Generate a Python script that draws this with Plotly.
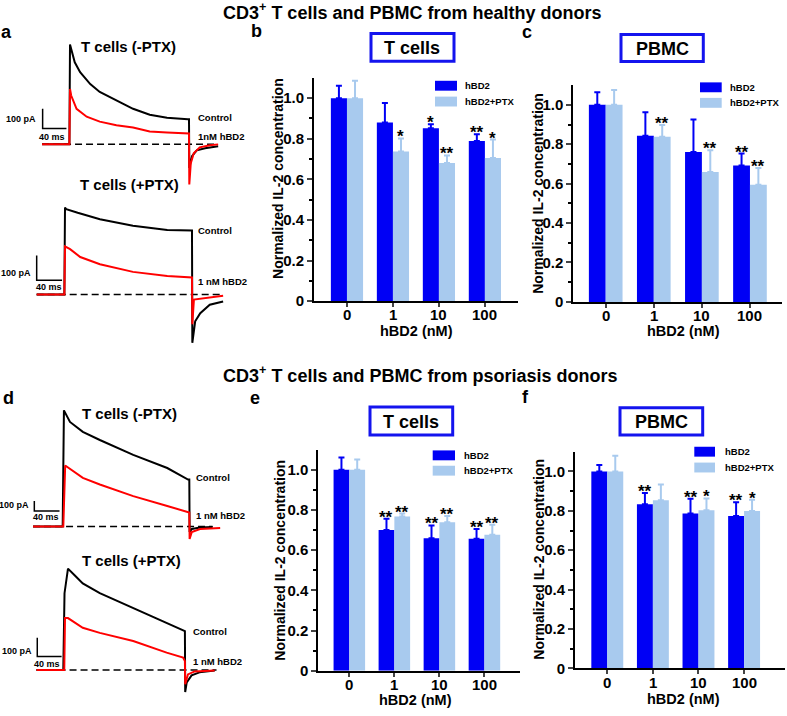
import plotly.graph_objects as go

W, H = 787, 716
FONT = "Liberation Sans, Arial, sans-serif"
DARK = "#0000F5"
LIGHT = "#A8CAEE"
BOXBLUE = "#1414EE"
RED = "#FF0000"

# ---------------- bar chart data ----------------
doses = ["0", "1", "10", "100"]
yticks = [0, 0.2, 0.4, 0.6, 0.8, 1.0]
yticktext = ["0", "0.2", "0.4", "0.6", "0.8", "1.0"]

b_hbd2 = [1.00, 0.880, 0.852, 0.789]
b_hbd2_err = [0.062, 0.097, 0.020, 0.033]
b_ptx = [1.00, 0.737, 0.681, 0.705]
b_ptx_err = [0.086, 0.065, 0.037, 0.091]
b_sig_hbd2 = ["", "", "*", "**"]
b_sig_ptx = ["", "*", "**", "*"]

c_hbd2 = [1.00, 0.843, 0.761, 0.692]
c_hbd2_err = [0.064, 0.120, 0.164, 0.061]
c_ptx = [1.00, 0.838, 0.659, 0.595]
c_ptx_err = [0.075, 0.060, 0.110, 0.085]
c_sig_hbd2 = ["", "", "", "**"]
c_sig_ptx = ["", "**", "**", "**"]

e_hbd2 = [1.00, 0.700, 0.659, 0.657]
e_hbd2_err = [0.061, 0.056, 0.064, 0.048]
e_ptx = [1.00, 0.767, 0.739, 0.677]
e_ptx_err = [0.051, 0.015, 0.031, 0.049]
e_sig_hbd2 = ["", "**", "**", "**"]
e_sig_ptx = ["", "**", "**", "**"]

f_hbd2 = [1.00, 0.833, 0.786, 0.774]
f_hbd2_err = [0.033, 0.058, 0.075, 0.070]
f_ptx = [1.00, 0.853, 0.803, 0.799]
f_ptx_err = [0.080, 0.080, 0.060, 0.057]
f_sig_hbd2 = ["", "**", "**", "**"]
f_sig_ptx = ["", "", "*", "*"]

# ---------------- current traces (time in ms, current in pA) ----------------
a1_t_ctrl = [-47, -1, 0, 3, 8, 17, 34, 50, 78, 106, 134, 163, 198, 200, 200.5, 205, 213, 227, 249]
a1_i_ctrl = [0, 0, 505, 470, 415, 365, 305, 265, 222, 180, 150, 135, 127, 127, -120, -60, -30, -20, -10]
a1_t_hbd2 = [-47, -1, 0, 2, 11, 28, 50, 78, 106, 134, 163, 198, 200, 200.5, 203, 208, 218, 235, 249]
a1_i_hbd2 = [0, 0, 280, 247, 180, 140, 115, 97, 85, 65, 60, 55, 55, -203, -95, -45, -15, -5, 0]

a2_t_ctrl = [-44.6, -1, 0, 2, 20, 55, 107, 161, 200, 200.5, 205, 213, 228, 249]
a2_i_ctrl = [0, 0, 351, 345, 330, 304, 278, 260, 258, -196, -109, -76, -42, -29]
a2_t_hbd2 = [-44.6, -1, 0, 8, 24, 55, 107, 161, 200, 200.5, 203, 228, 249]
a2_i_hbd2 = [0, 0, 194, 183, 151, 122, 91, 74, 68, -121, -21, -13, -6]

d1_t_ctrl = [-48, -1, 1, 10.6, 31, 58, 111, 165, 198, 200, 200.5, 204, 217, 237]
d1_i_ctrl = [0, 0, 1175, 1058, 958, 875, 725, 592, 475, 475, -55, -25, -10, -5]
d1_t_hbd2 = [-48, 0, 3, 10.6, 31, 58, 111, 165, 198, 200, 200.5, 204, 217, 249]
d1_i_hbd2 = [0, 0, 618, 585, 492, 425, 308, 208, 142, 142, -125, -55, -25, -15]

d2_t_ctrl = [-44, 0, 2, 7.7, 19, 32, 60, 115, 170, 200, 200.5, 203, 211, 224, 249]
d2_i_ctrl = [0, 0, 408, 539, 502, 460, 408, 329, 250, 206, -118, -66, -29, -13, -3]
d2_t_hbd2 = [-44, 1.6, 2.8, 7.7, 32, 60, 115, 170, 197, 200, 200.5, 205, 216, 249]
d2_i_hbd2 = [0, 0, 276, 276, 224, 197, 154, 92, 66, 48, -76, -24, -8, -3]

baseline_span = {"a1": [-47, 244], "a2": [-44.6, 249], "d1": [-48, 237], "d2": [-44, 252]}
scale_pA = 100
scale_ms = 40

fig = go.Figure()


def px_x(x):
    return x / W


def px_y(y):
    return 1 - y / H


HIDDEN = dict(showline=False, showticklabels=False, showgrid=False, zeroline=False,
              ticks="", fixedrange=True)


# ---------- trace-panel axes ----------
def trace_axes(n, left, right, top, bottom, t0, px_ms, base, pa_px):
    xa = dict(domain=[px_x(left), px_x(right)],
              range=[(left - t0) / px_ms, (right - t0) / px_ms], **HIDDEN)
    ya = dict(domain=[px_y(bottom), px_y(top)],
              range=[(base - bottom) * pa_px, (base - top) * pa_px], **HIDDEN)
    if n > 1:
        xa["anchor"] = "y%d" % n
        ya["anchor"] = "x%d" % n
    return xa, ya


layout_axes = {}
panels = {
    "a1": (1, 30, 240, 40, 195, 70, 0.595, 146, 5.0, (-46, 80)),
    "a2": (2, 30, 240, 200, 355, 65, 0.635, 297.7, 4.0, (-44.6, 57.6)),
    "d1": (5, 25, 240, 405, 555, 63.3, 0.63, 532.5, 10.0, (-46, 158)),
    "d2": (6, 25, 240, 565, 712, 63.3, 0.608, 677.5, 5.26, (-42.8, 71)),
}
trace_data = {
    "a1": (a1_t_ctrl, a1_i_ctrl, a1_t_hbd2, a1_i_hbd2),
    "a2": (a2_t_ctrl, a2_i_ctrl, a2_t_hbd2, a2_i_hbd2),
    "d1": (d1_t_ctrl, d1_i_ctrl, d1_t_hbd2, d1_i_hbd2),
    "d2": (d2_t_ctrl, d2_i_ctrl, d2_t_hbd2, d2_i_hbd2),
}
for key, (n, l, r, t, b, t0, pxms, base, papx, sb) in panels.items():
    xa, ya = trace_axes(n, l, r, t, b, t0, pxms, base, papx)
    sfx = "" if n == 1 else str(n)
    layout_axes["xaxis" + sfx] = xa
    layout_axes["yaxis" + sfx] = ya
    xr, yr = "x" + sfx, "y" + sfx
    tc, ic, th, ih = trace_data[key]
    span = baseline_span[key]
    fig.add_trace(go.Scatter(x=span, y=[0, 0], mode="lines", xaxis=xr, yaxis=yr,
                             line=dict(color="black", width=1.5, dash="7px,4px"), showlegend=False))
    fig.add_trace(go.Scatter(x=tc, y=ic, mode="lines", xaxis=xr, yaxis=yr,
                             line=dict(color="black", width=2), showlegend=False))
    fig.add_trace(go.Scatter(x=th, y=ih, mode="lines", xaxis=xr, yaxis=yr,
                             line=dict(color=RED, width=2), showlegend=False))
    sx, sy = sb
    fig.add_trace(go.Scatter(x=[sx, sx, sx + scale_ms], y=[sy + scale_pA, sy, sy], mode="lines",
                             xaxis=xr, yaxis=yr, line=dict(color="black", width=1.5),
                             showlegend=False))


# ---------- bar panels ----------
bar_panels = [
    # n, left, right, top, bottom, xr0, xr1, data..., ticklabel y
    (3, 314, 518, 78.8, 304.5, -0.717, 3.72, b_hbd2, b_hbd2_err, b_ptx, b_ptx_err, b_sig_hbd2, b_sig_ptx, 318),
    (4, 573.3, 781.7, 86.1, 305.3, -0.674, 3.66, c_hbd2, c_hbd2_err, c_ptx, c_ptx_err, c_sig_hbd2, c_sig_ptx, 319),
    (7, 318.3, 520, 454.7, 678.3, -0.689, 3.79, e_hbd2, e_hbd2_err, e_ptx, e_ptx_err, e_sig_hbd2, e_sig_ptx, 692),
    (8, 575, 785, 456.8, 676, -0.708, 3.897, f_hbd2, f_hbd2_err, f_ptx, f_ptx_err, f_sig_hbd2, f_sig_ptx, 690.5),
]
annotations = []
cats = list(range(len(doses)))
for (n, l, r, t, b, x0, x1, v1, e1, v2, e2, s1, s2, tly) in bar_panels:
    xr, yr = "x%d" % n, "y%d" % n
    tickfont = dict(family=FONT, size=15, color="black", weight="bold")
    layout_axes["xaxis%d" % n] = dict(
        domain=[px_x(l), px_x(r)], range=[x0, x1], anchor=yr,
        tickvals=cats, ticktext=doses, ticks="outside", ticklen=4, tickwidth=2,
        showticklabels=False,
        showline=True, linewidth=2, linecolor="black", showgrid=False, zeroline=False,
        fixedrange=True)
    layout_axes["yaxis%d" % n] = dict(
        domain=[px_y(b), px_y(t)], range=[0, 1.1], anchor=xr,
        tickvals=yticks, ticktext=yticktext, ticks="outside", ticklen=5, tickwidth=2,
        minor=dict(tickvals=[0.1, 0.3, 0.5, 0.7, 0.9], ticks="outside", ticklen=3, tickwidth=1.5,
                   tickcolor="black"),
        showline=True, linewidth=2, linecolor="black", showgrid=False, zeroline=False,
        tickfont=tickfont, fixedrange=True)
    fig.add_trace(go.Bar(x=cats, y=v1, xaxis=xr, yaxis=yr, marker=dict(color=DARK, line=dict(width=0)),
                         error_y=dict(type="data", symmetric=False, array=e1, arrayminus=[0] * 4,
                                      color=DARK, thickness=2, width=3),
                         showlegend=False, offsetgroup="1"))
    fig.add_trace(go.Bar(x=cats, y=v2, xaxis=xr, yaxis=yr, marker=dict(color=LIGHT, line=dict(width=0)),
                         error_y=dict(type="data", symmetric=False, array=e2, arrayminus=[0] * 4,
                                      color=LIGHT, thickness=2, width=3),
                         showlegend=False, offsetgroup="2"))
    # category tick labels
    for i in cats:
        annotations.append(dict(text=doses[i], x=i, y=px_y(tly), xref=xr, yref="paper",
                                showarrow=False, yanchor="middle",
                                font=dict(family=FONT, size=15, color="black", weight="bold")))
    for i in cats:
        for (sig, vals, errs, dx) in ((s1, v1, e1, -0.175), (s2, v2, e2, 0.175)):
            if sig[i]:
                annotations.append(dict(text=sig[i], x=i + dx, y=vals[i] + errs[i], xref=xr, yref=yr,
                                        showarrow=False, yanchor="bottom", yshift=-10,
                                        font=dict(family=FONT, size=17, color="black", weight="bold")))


def ann(text, x, y, size, xanchor="center", yanchor="middle", angle=0):
    return dict(text=text, x=px_x(x), y=px_y(y), xref="paper", yref="paper", showarrow=False,
                xanchor=xanchor, yanchor=yanchor, textangle=angle,
                font=dict(family=FONT, size=size, color="black", weight="bold"))


# main titles
annotations.append(ann("CD3<sup>+</sup> T cells and PBMC from healthy donors", 221, 12, 18, xanchor="left"))
annotations.append(ann("CD3<sup>+</sup> T cells and PBMC from psoriasis donors", 221, 379, 18, xanchor="left"))
# panel letters
for (lt, x, y) in (("a", 6, 32), ("b", 256.7, 31), ("c", 526.7, 32), ("d", 8, 403), ("e", 255, 403), ("f", 525, 401)):
    annotations.append(ann(lt, x, y, 18))

# trace panel titles and labels
annotations += [
    ann("T cells (-PTX)", 128, 46.7, 15), ann("T cells (+PTX)", 129, 186.7, 15),
    ann("T cells (-PTX)", 129, 418.3, 15), ann("T cells (+PTX)", 131, 566.7, 15),
    ann("Control", 196, 119.3, 9.5, xanchor="left"), ann("1nM hBD2", 196, 138.3, 9.5, xanchor="left"),
    ann("Control", 196, 233.3, 9.5, xanchor="left"), ann("1 nM hBD2", 196, 284.3, 9.5, xanchor="left"),
    ann("Control", 194, 483.3, 9.5, xanchor="left"), ann("1 nM hBD2", 194, 521.7, 9.5, xanchor="left"),
    ann("Control", 191, 638.3, 9.5, xanchor="left"), ann("1 nM hBD2", 191, 669.3, 9.5, xanchor="left"),
    ann("100 pA", 38, 120, 9, xanchor="right"), ann("40 ms", 52, 138.3, 9),
    ann("100 pA", 33, 276, 9, xanchor="right"), ann("40 ms", 49, 290, 9),
    ann("100 pA", 31, 511, 9, xanchor="right"), ann("40 ms", 46, 523.3, 9),
    ann("100 pA", 34, 658.3, 9, xanchor="right"), ann("40 ms", 47, 671.7, 9),
]

# bar panel axis titles, boxed headings, legends
shapes = []
bar_text = [
    # ytitle x, ytitle y, xtitle x, xtitle y, box (x0,y0,x1,y1), heading, legend (x0, x1, yc1, yc2, textx)
    (278, 181, 416.7, 334.7, (371, 34, 454, 62), "T cells", (435, 457, 86.7, 102.7, 463)),
    (538, 196, 683.3, 335, (621, 35, 703.3, 62.3), "PBMC", (700, 721.7, 88.3, 104, 728)),
    (280, 567, 415, 708, (370, 411.7, 452.7, 440), "T cells", (432.7, 455, 460.5, 476, 461.7)),
    (539, 566, 683.3, 706.7, (620, 412.3, 702.7, 440), "PBMC", (694.3, 715, 456.8, 472.8, 723.3)),
]
for (ytx, yty, xtx, xty, box, head, leg) in bar_text:
    annotations.append(ann("Normalized IL-2 concentration", ytx, yty, 14, angle=-90))
    annotations.append(ann("hBD2 (nM)", xtx, xty, 14.5))
    bx0, by0, bx1, by1 = box
    shapes.append(dict(type="rect", xref="paper", yref="paper", x0=px_x(bx0), x1=px_x(bx1),
                       y0=px_y(by1), y1=px_y(by0), line=dict(color=BOXBLUE, width=3), fillcolor="white"))
    annotations.append(ann(head, (bx0 + bx1) / 2, (by0 + by1) / 2 + 1, 18))
    lx0, lx1, lyc1, lyc2, ltx = leg
    for (yc, col, lab) in ((lyc1, DARK, "hBD2"), (lyc2, LIGHT, "hBD2+PTX")):
        shapes.append(dict(type="rect", xref="paper", yref="paper", x0=px_x(lx0), x1=px_x(lx1),
                           y0=px_y(yc + 5), y1=px_y(yc - 5), line=dict(width=0), fillcolor=col))
        annotations.append(ann(lab, ltx, yc, 9.5, xanchor="left"))

fig.update_layout(
    width=W, height=H, autosize=False,
    margin=dict(l=0, r=0, t=0, b=0),
    paper_bgcolor="white", plot_bgcolor="rgba(0,0,0,0)",
    barmode="group", bargap=0.3, bargroupgap=0,
    annotations=annotations, shapes=shapes,
    font=dict(family=FONT, color="black"),
    **layout_axes,
)
fig.write_html("out.html", config={"displayModeBar": False},
               post_script="document.body.style.margin='0px';")
